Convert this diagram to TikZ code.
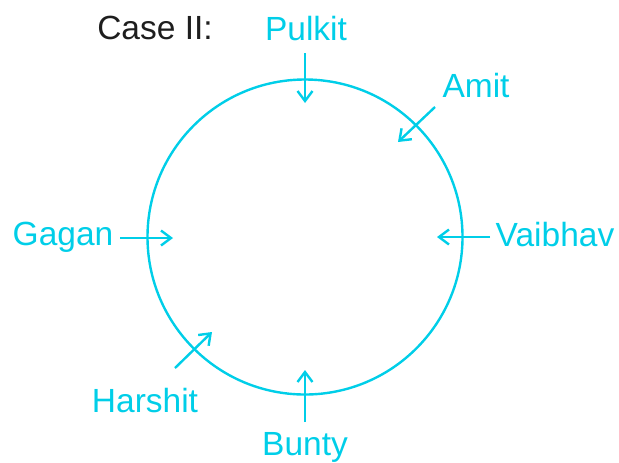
\documentclass[tikz,border=0pt]{standalone}
\usepackage{fontspec}
\setmainfont{Liberation Sans}
\usepackage{xcolor}
\usetikzlibrary{arrows.meta, positioning, calc}
\definecolor{seat}{RGB}{0,206,232}
\definecolor{heading}{RGB}{30,30,30}

\begin{document}
\begin{tikzpicture}[x=0.5pt, y=-0.5pt, >={Straight Barb[length=5pt, width=7.5pt]},
    person/.style={text=seat, font=\fontsize{16.75}{20}\selectfont, anchor=base, inner sep=0pt},
    pointer/.style={->, draw=seat, line width=1.2pt}]
        \useasboundingbox (0,0) rectangle (619,462);
        % Table
        \node[circle, draw=seat, line width=1.2pt, minimum size=157.5pt, inner sep=0pt] (ring) at (305,237) {};

        % Labels
        \node[person, text=heading] (case) at (155,39) {Case II:};
        \node[person] (pulkit) at (306,40) {Pulkit};
        \node[person] (amit) at (476,97) {Amit};
        \node[person] (gagan) at (63,245) {Gagan};
        \node[person] (vaibhav) at (555,246) {Vaibhav};
        \node[person] (harshit) at (145,412) {Harshit};
        \node[person] (bunty) at (305,455) {Bunty};

        % Arrow ends
        \coordinate (pulkit_t) at (305,53);   \coordinate (pulkit_h) at (305,103);
        \coordinate (amit_t) at (435,107);    \coordinate (amit_h) at (398,142);
        \coordinate (gagan_t) at (120,238);   \coordinate (gagan_h) at (173,238);
        \coordinate (vaibhav_t) at (490,237); \coordinate (vaibhav_h) at (437,237);
        \coordinate (harshit_t) at (175,368); \coordinate (harshit_h) at (212,332);
        \coordinate (bunty_t) at (305,422);   \coordinate (bunty_h) at (305,370);

        \draw[pointer] (pulkit_t) -- (pulkit_h);
        \draw[pointer] (amit_t) -- (amit_h);
        \draw[pointer] (gagan_t) -- (gagan_h);
        \draw[pointer] (vaibhav_t) -- (vaibhav_h);
        \draw[pointer] (harshit_t) -- (harshit_h);
        \draw[pointer] (bunty_t) -- (bunty_h);
\end{tikzpicture}
\end{document}
